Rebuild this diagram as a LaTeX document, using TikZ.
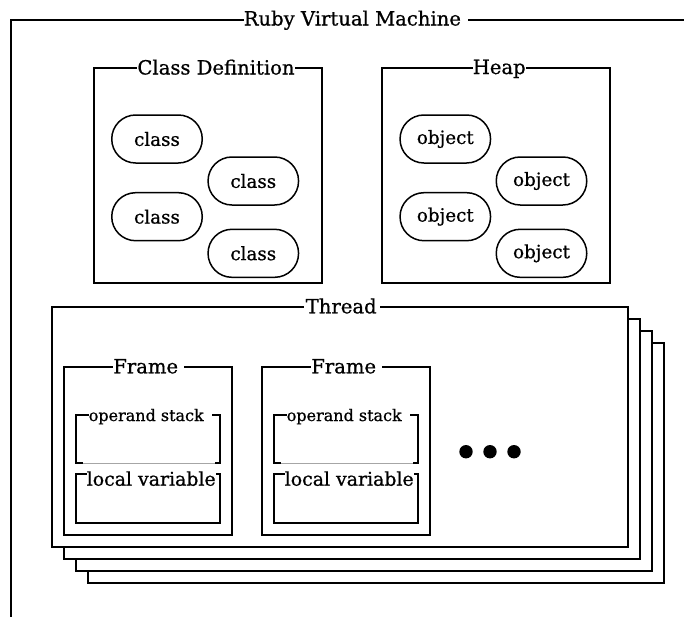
\documentclass[tikz,border=0pt]{standalone}
\usepackage{fontspec}
\setmainfont[FakeBold=0.8]{DejaVu Serif}
\newcommand{\gapw}[1]{\rule{#1}{0pt}}
\begin{document}
\begin{tikzpicture}[x=1pt,y=-1pt,line width=1.5pt,
  lbl/.style={fill=white,inner sep=0pt,anchor=base west,font=\fontsize{19.6}{22}\selectfont},
  smalllbl/.style={lbl,font=\fontsize{16}{18}\selectfont},
  midlbl/.style={lbl,font=\fontsize{18.9}{21}\selectfont},
  pill/.style={draw,line width=1.5pt,rounded corners=23.9pt,minimum width=90.5pt,minimum height=48pt,inner sep=0pt,font=\fontsize{18.3}{20}\selectfont},
  layer/.style={draw,fill=white,line width=1.5pt}]
\useasboundingbox (0,0) rectangle (684,616);
\fill[white] (0,0) rectangle (684,616);
% outer frame (cut off at right and bottom)
\begin{scope}
  \clip (0,0) rectangle (684,616);
  \draw (11,640) -- (11,20) -- (700,20);
\end{scope}
\node[lbl] (rvm) at (243,25.5) {Ruby Virtual Machine\gapw{7pt}};
% class definition
\draw (94,68) rectangle (322,283);
\node[lbl] (cdt) at (136.7,74.5) {Class Definition};
\node[pill] (c1) at (157,139) {class};
\node[pill] (c2) at (253.3,181) {class};
\node[pill] (c3) at (157,216.7) {class};
\node[pill] (c4) at (253.3,253.3) {class};
% heap
\draw (382,68) rectangle (610,283);
\node[lbl] (heapt) at (472,74) {Heap};
\node[pill] (o1) at (445.3,139) {object};
\node[pill] (o2) at (541.5,181) {object};
\node[pill] (o3) at (445.3,216.7) {object};
\node[pill] (o4) at (541.5,253.3) {object};
% thread stack
\draw[layer] (88,343) rectangle (664,583);
\draw[layer] (76,331) rectangle (652,571);
\draw[layer] (64,319) rectangle (640,559);
\draw[layer] (52,307) rectangle (628,547);
\node[lbl] (thr) at (303,313.3) {\gapw{2pt}Thread\gapw{3pt}};
% frames
\foreach \dx/\n in {0/1,198/2}{
  \draw (64+\dx,367) rectangle (232+\dx,535);
  \node[lbl] (f\n t) at (112.5+\dx,373.3) {Frame\gapw{6pt}};
  \draw (83+\dx,463) -- (76+\dx,463) -- (76+\dx,415) -- (220+\dx,415) -- (220+\dx,463) -- (215+\dx,463);
  \draw[gray!70,line width=0.7pt] (83+\dx,463) -- (215+\dx,463);
  \node[smalllbl] (f\n o) at (88+\dx,421) {operand stack\gapw{8pt}};
  \draw (76+\dx,474) rectangle (220+\dx,523);
  \node[midlbl] (f\n l) at (86+\dx,485.7) {local variable};
}
% ellipsis dots
\fill (466,451.7) circle (6.7pt);
\fill (490,451.7) circle (6.7pt);
\fill (514,451.7) circle (6.7pt);
\end{tikzpicture}
\end{document}
